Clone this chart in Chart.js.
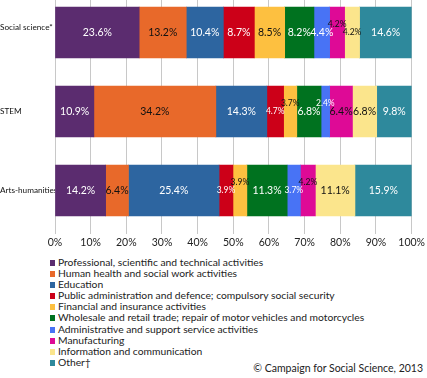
<!DOCTYPE html>
<html>
<head>
<meta charset="utf-8">
<script src="https://cdn.jsdelivr.net/npm/chart.js@4"></script>
<style>
  html, body { margin: 0; padding: 0; background: #fff; width: 427px; height: 378px; overflow: hidden; position: relative; }
  #wrap { position: absolute; left: 0; top: -7px; width: 427px; height: 257px; }
  #legend { position: absolute; left: 50px; top: 257px; font-family: Lato, sans-serif; font-size: 10.3px; color: #222; }
  .item { height: 11.1px; line-height: 11.1px; white-space: nowrap; position: relative; padding-left: 8px; }
  .sw { position: absolute; left: 0; top: 3px; width: 5px; height: 6px; }
  #credit { position: absolute; right: 4px; top: 362px; font-family: Lato, sans-serif; font-size: 10.5px; color: #222; white-space: nowrap; }
</style>
</head>
<body>
<div id="wrap"><canvas id="c"></canvas></div>
<div id="legend"></div>
<div id="credit">© Campaign for Social Science, 2013</div>
<script>
const categories = ['Social science*', 'STEM', 'Arts-humanities'];
const seriesNames = [
  'Professional, scientific and technical activities',
  'Human health and social work activities',
  'Education',
  'Public administration and defence; compulsory social security',
  'Financial and insurance activities',
  'Wholesale and retail trade; repair of motor vehicles and motorcycles',
  'Administrative and support service activities',
  'Manufacturing',
  'Information and communication',
  'Other\u2020'
];
const professional   = [23.6, 10.9, 14.2];
const health         = [13.2, 34.2, 6.4];
const education      = [10.4, 14.3, 25.4];
const publicAdmin    = [8.7, 4.7, 3.9];
const financial      = [8.5, 3.7, 3.9];
const wholesale      = [8.2, 6.8, 11.3];
const administrative = [4.4, 2.4, 3.7];
const manufacturing  = [4.2, 6.4, 4.2];
const information    = [4.2, 6.8, 11.1];
const other          = [14.6, 9.8, 15.9];
const tickValues = [0, 10, 20, 30, 40, 50, 60, 70, 80, 90, 100];
const tickLabels = ['0%', '10%', '20%', '30%', '40%', '50%', '60%', '70%', '80%', '90%', '100%'];

const seriesData = [professional, health, education, publicAdmin, financial, wholesale, administrative, manufacturing, information, other];
const colors = ['#5b2c6f', '#e8692a', '#2d65a0', '#cc0018', '#fdc040', '#00721f', '#4873f5', '#de0a96', '#fbe58c', '#2e899c'];
const labelColors = ['#fff', '#111', '#fff', '#fff', '#111', '#fff', '#fff', '#111', '#111', '#fff'];
// style: labels lifted above centre (key: series-category)
const lifted = { '7-0': 1, '4-1': 1, '6-1': 1, '4-2': 1, '7-2': 1 };
const FONT = 'Lato, sans-serif';

// pick a narrow face for the category labels if one is installed
function hasFont(name) {
  const c = document.createElement('canvas').getContext('2d');
  c.font = '20px monospace';
  const a = c.measureText('Arts-humanities mmwwii').width;
  c.font = '20px "' + name + '", monospace';
  return c.measureText('Arts-humanities mmwwii').width !== a;
}
const narrow = hasFont('Liberation Sans Narrow');
const catFont = narrow ? { family: '"Liberation Sans Narrow", Lato, sans-serif', size: 9.5 }
                       : { family: FONT, size: 8.2 };

const labelPlugin = {
  id: 'segLabels',
  afterDatasetsDraw(chart) {
    const ctx = chart.ctx;
    ctx.save();
    ctx.textAlign = 'center';
    ctx.textBaseline = 'middle';
    chart.data.datasets.forEach((ds, di) => {
      const meta = chart.getDatasetMeta(di);
      meta.data.forEach((el, ci) => {
        const v = ds.data[ci];
        const small = v < 5 && !(di === 6 && ci === 0);
        ctx.font = (small ? '8.5px ' : '10.5px ') + FONT;
        ctx.fillStyle = labelColors[di];
        const cx = (el.x + el.base) / 2;
        const cy = el.y + (lifted[di + '-' + ci] ? -8 : 0);
        ctx.fillText(v.toFixed(1) + '%', cx, cy);
      });
    });
    ctx.restore();
  }
};

new Chart(document.getElementById('c'), {
  type: 'bar',
  data: {
    labels: categories,
    datasets: seriesData.map((d, i) => ({
      label: seriesNames[i],
      data: d,
      backgroundColor: colors[i],
      borderWidth: 0,
      barThickness: 51
    }))
  },
  options: {
    indexAxis: 'y',
    responsive: true,
    maintainAspectRatio: false,
    animation: false,
    layout: { padding: { left: 0, right: 14, top: 0, bottom: 0 } },
    plugins: { legend: { display: false }, tooltip: { enabled: false } },
    scales: {
      x: {
        stacked: true,
        min: 0, max: 100,
        afterBuildTicks(scale) { scale.ticks = tickValues.map(v => ({ value: v })); },
        afterFit(scale) { scale.height = 20; },
        ticks: {
          callback: (v, i) => tickLabels[i],
          color: '#222',
          font: { family: FONT, size: 10.5 },
          padding: 2,
          maxRotation: 0
        },
        grid: { color: '#c8c8c8', lineWidth: 1, tickLength: 4 },
        border: { display: false }
      },
      y: {
        stacked: true,
        z: 1,
        afterFit(scale) { scale.width = 55; scale.paddingTop = 0; scale.paddingBottom = 0; },
        ticks: {
          crossAlign: 'far',
          padding: 0,
          color: '#111',
          font: catFont,
          callback: (v, i) => i === 0 ? [categories[i], ''] : categories[i]
        },
        grid: { display: false, drawTicks: false },
        border: { display: false }
      }
    }
  },
  plugins: [labelPlugin]
});

const legend = document.getElementById('legend');
seriesNames.forEach((n, i) => {
  const d = document.createElement('div');
  d.className = 'item';
  d.innerHTML = '<span class="sw" style="background:' + colors[i] + '"></span>';
  d.appendChild(document.createTextNode(n));
  legend.appendChild(d);
});
</script>
</body>
</html>
